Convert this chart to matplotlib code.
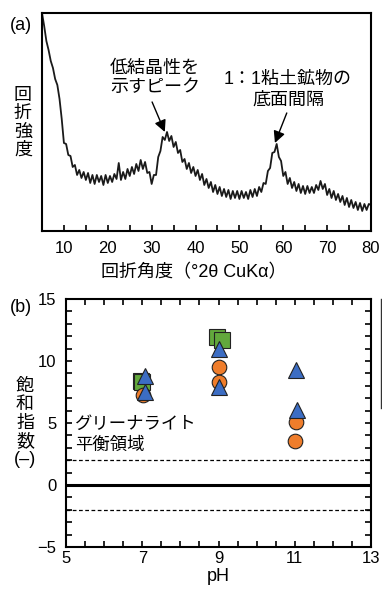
import matplotlib
matplotlib.use("Agg")
import matplotlib.pyplot as plt
from matplotlib.lines import Line2D
from matplotlib.ticker import MultipleLocator
import numpy as np

plt.rcParams["font.family"] = ["Liberation Sans", "Noto Sans CJK JP", "DejaVu Sans"]

# (a) XRD パターン（0.5°刻み、相対強度）
two_theta_start, two_theta_step = 5.0, 0.5
intensity = [
    218, 205, 190, 181, 170, 163, 152, 146, 132, 112,
    88, 87, 76, 75, 64, 66, 56, 61, 53, 59,
    51, 58, 48, 56, 47, 56, 49, 55, 46, 56,
    48, 55, 49, 57, 52, 68, 51, 59, 52, 62,
    55, 64, 57, 67, 60, 71, 62, 69, 58, 59,
    47, 56, 56, 74, 80, 94, 91, 99, 90, 95,
    84, 89, 78, 81, 69, 72, 62, 68, 58, 64,
    55, 61, 51, 57, 46, 52, 43, 49, 39, 46,
    37, 44, 35, 42, 34, 41, 32, 40, 33, 40,
    32, 40, 33, 39, 32, 41, 34, 42, 35, 44,
    39, 48, 47, 60, 63, 78, 79, 87, 74, 70,
    55, 59, 47, 53, 43, 49, 40, 47, 38, 45,
    37, 45, 38, 44, 38, 46, 41, 50, 42, 47,
    36, 42, 33, 40, 31, 37, 29, 35, 26, 33,
    24, 31, 23, 29, 21, 28, 20, 27, 21, 27,
    26,
]
xrd_xticks = [10, 20, 30, 40, 50, 60, 70, 80]

# (b) 飽和指数
sq_ph = [6.96, 7.0, 8.97, 9.08]
sq_si = [8.4, 8.3, 11.9, 11.7]
ci_ph = [7.03, 9.0, 9.0, 11.03, 11.0]
ci_si = [7.26, 9.55, 8.34, 5.11, 3.57]
tri_ph = [7.07, 7.07, 9.0, 9.0, 11.03, 11.07]
tri_si = [8.75, 7.53, 10.96, 7.94, 9.29, 6.05]
ph_ticks = [5, 7, 9, 11, 13]
si_ticks = [-5, 0, 5, 10, 15]

GREEN = "#62a83c"
ORANGE = "#ef7d2b"
BLUE = "#3c6dc3"

fig = plt.figure(figsize=(3.82, 5.95), dpi=100)

# === (a) ===
ax1 = fig.add_axes([0.1099, 0.6118, 0.8613, 0.3664])
tt = two_theta_start + two_theta_step * np.arange(len(intensity))
ax1.plot(tt, intensity, color="#1a1a1a", linewidth=1.3)
ax1.set_xlim(5, 80)
ax1.set_ylim(0, 218)
ax1.set_yticks([])
ax1.set_xticks(xrd_xticks)
ax1.xaxis.set_minor_locator(MultipleLocator(5))
ax1.tick_params(axis="x", which="both", direction="in", length=4, width=1.2,
                labelsize=12, pad=7)
for s in ax1.spines.values():
    s.set_linewidth(1.5)

ax1.text(30.76, 153, "低結晶性を\n示すピーク", ha="center", va="center",
         fontsize=13, linespacing=1.15)
ax1.annotate("", xy=(33.0, 99), xytext=(30.1, 129),
             arrowprops=dict(arrowstyle="-|>,head_length=0.7,head_width=0.35",
                             color="black", lw=1.0, shrinkA=0, shrinkB=0))
ax1.text(61.1, 141, "1：1粘土鉱物の\n底面間隔", ha="center", va="center",
         fontsize=13, linespacing=1.3)
ax1.annotate("", xy=(58.1, 88), xytext=(60.8, 118),
             arrowprops=dict(arrowstyle="-|>,head_length=0.7,head_width=0.35",
                             color="black", lw=1.0, shrinkA=0, shrinkB=0))

fig.text(194 / 382, 1 - 273 / 595, "回折角度（°2θ CuKα）",
         ha="center", va="center", fontsize=13)
fig.text(23 / 382, 1 - 123 / 595, "回\n折\n強\n度", ha="center", va="center",
         fontsize=13, linespacing=1.1)
fig.text(21 / 382, 1 - 26 / 595, "(a)", ha="center", va="center", fontsize=13)

# === (b) ===
ax2 = fig.add_axes([0.1728, 0.0807, 0.7984, 0.4168])
ax2.axhline(0, color="black", linewidth=2.2, zorder=1)
ax2.axhline(2, color="black", linewidth=0.9, linestyle=(0, (3, 2)), zorder=1)
ax2.axhline(-2, color="black", linewidth=0.9, linestyle=(0, (3, 2)), zorder=1)

ax2.plot(sq_ph, sq_si, "s", ms=11, mfc=GREEN, mec="#222222", mew=0.8, zorder=3)
ax2.plot(ci_ph, ci_si, "o", ms=10.5, mfc=ORANGE, mec="#222222", mew=0.8, zorder=4)
ax2.plot(tri_ph, tri_si, "^", ms=12, mfc=BLUE, mec="#222222", mew=0.8, zorder=5)

ax2.set_xlim(5, 13)
ax2.set_ylim(-5, 15)
ax2.set_xticks(ph_ticks)
ax2.set_yticks(si_ticks)
ax2.xaxis.set_minor_locator(MultipleLocator(0.5))
ax2.yaxis.set_minor_locator(MultipleLocator(1))
ax2.tick_params(which="both", direction="in", top=True, right=True,
                length=4, width=1.2, labelsize=12)
ax2.tick_params(axis="x", pad=3)
ax2.tick_params(axis="y", pad=7)
for s in ax2.spines.values():
    s.set_linewidth(1.5)

ax2.text(5.24, 4.03, "グリーナライト\n平衡領域", ha="left", va="center",
         fontsize=12.5, linespacing=1.35)
ax2.set_xlabel("pH", fontsize=13, labelpad=1)

fig.text(25 / 382, 1 - 423 / 595, "飽\n和\n指\n数\n(–)", ha="center", va="center",
         fontsize=13, linespacing=1.1)
fig.text(21 / 382, 1 - 307 / 595, "(b)", ha="center", va="center", fontsize=13)

# 右端で切れた凡例枠の一部
fig.add_artist(Line2D([381 / 382, 381 / 382], [1 - 299 / 595, 1 - 408 / 595],
                      color="#333333", linewidth=1.0))

fig.savefig("out.png", dpi=100)
